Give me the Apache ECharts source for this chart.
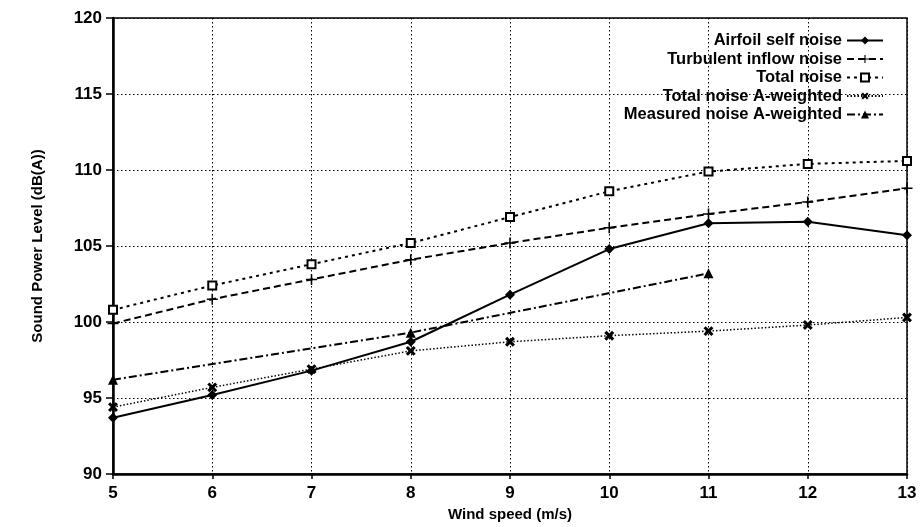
<!DOCTYPE html>
<html>
<head>
<meta charset="utf-8">
<script src="https://cdn.jsdelivr.net/npm/echarts@6/dist/echarts.min.js"></script>
<style>
html,body{margin:0;padding:0;background:#fff;}
#chart{width:922px;height:527px;}
</style>
</head>
<body>
<div id="chart"></div>
<script>
const windSpeed = [5, 6, 7, 8, 9, 10, 11, 12, 13];
const airfoilSelfNoise = [93.7, 95.2, 96.8, 98.7, 101.8, 104.8, 106.5, 106.6, 105.7];
const turbulentInflowNoise = [99.9, 101.5, 102.8, 104.1, 105.2, 106.2, 107.1, 107.9, 108.8];
const totalNoise = [100.8, 102.4, 103.8, 105.2, 106.9, 108.6, 109.9, 110.4, 110.6];
const totalNoiseAWeighted = [94.4, 95.7, 96.9, 98.1, 98.7, 99.1, 99.4, 99.8, 100.3];
const measuredSpeed = [5, 8, 11];
const measuredNoiseAWeighted = [96.2, 99.3, 103.2];

const pairs = (xs, ys) => xs.map((x, i) => [x, ys[i]]);
const plusPath = 'path://M4.3,0H5.7V4.3H10V5.7H5.7V10H4.3V5.7H0V4.3H4.3Z';
const crossPath = 'path://M3.6,0H6.4V3.6H10V6.4H6.4V10H3.6V6.4H0V3.6H3.6Z';
const FONT = '"Liberation Sans", Arial, sans-serif';

const chart = echarts.init(document.getElementById('chart'), null, {renderer: 'canvas'});
chart.setOption({
  animation: false,
  backgroundColor: '#fff',
  grid: {left: 113, right: 15, top: 18, bottom: 44, show: true, borderColor: '#000', borderWidth: 1.5},
  legend: {
    orient: 'vertical',
    right: 33,
    top: 27,
    align: 'right',
    itemWidth: 36,
    itemHeight: 10,
    itemGap: 1.5,
    textStyle: {fontFamily: FONT, fontSize: 16.5, fontWeight: 'bold', color: '#000'},
    data: ['Airfoil self noise', 'Turbulent inflow noise', 'Total noise', 'Total noise A-weighted', 'Measured noise A-weighted']
  },
  xAxis: {
    type: 'value', min: 5, max: 13, interval: 1,
    name: 'Wind speed (m/s)', nameLocation: 'middle', nameGap: 33,
    nameTextStyle: {fontFamily: FONT, fontSize: 15, fontWeight: 'bold', color: '#000'},
    axisLine: {show: true, lineStyle: {color: '#000', width: 2.5}},
    axisTick: {show: true, length: 5, lineStyle: {color: '#000', width: 1.5}},
    axisLabel: {fontFamily: FONT, fontSize: 17, fontWeight: 'bold', color: '#000', margin: 11},
    splitLine: {show: true, lineStyle: {color: '#000', width: 1, type: [1.5, 2.5]}}
  },
  yAxis: {
    type: 'value', min: 90, max: 120, interval: 5,
    name: 'Sound Power Level (dB(A))', nameLocation: 'middle', nameGap: 68, nameRotate: 90,
    nameTextStyle: {fontFamily: FONT, fontSize: 15, fontWeight: 'bold', color: '#000'},
    axisLine: {show: true, lineStyle: {color: '#000', width: 2.5}},
    axisTick: {show: true, length: 7, lineStyle: {color: '#000', width: 1.5}},
    axisLabel: {fontFamily: FONT, fontSize: 17, fontWeight: 'bold', color: '#000', margin: 11},
    splitLine: {show: true, lineStyle: {color: '#000', width: 1, type: [1.5, 2.5]}}
  },
  series: [
    {
      name: 'Airfoil self noise', type: 'line', data: pairs(windSpeed, airfoilSelfNoise),
      symbol: 'diamond', symbolSize: 10,
      lineStyle: {color: '#000', width: 2, type: 'solid'},
      itemStyle: {color: '#000'}
    },
    {
      name: 'Turbulent inflow noise', type: 'line', data: pairs(windSpeed, turbulentInflowNoise),
      symbol: plusPath, symbolSize: 11,
      lineStyle: {color: '#000', width: 2, type: [7, 4]},
      itemStyle: {color: '#000'}
    },
    {
      name: 'Total noise', type: 'line', data: pairs(windSpeed, totalNoise),
      symbol: 'rect', symbolSize: 8,
      lineStyle: {color: '#000', width: 2, type: [3, 4]},
      itemStyle: {color: '#fff', borderColor: '#000', borderWidth: 2}
    },
    {
      name: 'Total noise A-weighted', type: 'line', data: pairs(windSpeed, totalNoiseAWeighted),
      symbol: crossPath, symbolSize: 11, symbolRotate: 45,
      lineStyle: {color: '#000', width: 1.5, type: [1.5, 2]},
      itemStyle: {color: '#000'}
    },
    {
      name: 'Measured noise A-weighted', type: 'line', data: pairs(measuredSpeed, measuredNoiseAWeighted),
      symbol: 'triangle', symbolSize: 10,
      lineStyle: {color: '#000', width: 2, type: [8, 3, 2, 3]},
      itemStyle: {color: '#000'}
    }
  ]
});
</script>
</body>
</html>
